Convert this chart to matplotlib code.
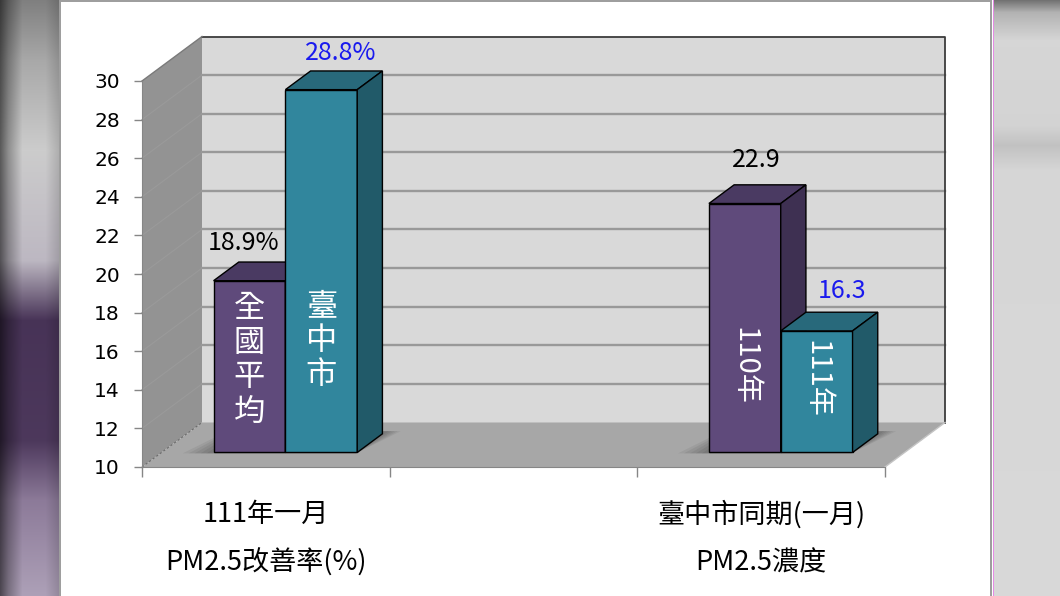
import numpy as np
import matplotlib.pyplot as plt
from matplotlib.patches import Polygon

plt.rcParams['font.family'] = ['Noto Sans CJK TC', 'DejaVu Sans']
plt.rcParams['font.weight'] = 'medium'

# ---- data ----
cat_top = ["111年一月", "臺中市同期(一月)"]
cat_bottom = ["PM2.5改善率(%)", "PM2.5濃度"]
cat_slots = [0, 2]          # 3 category slots, middle one empty
bar_names = [["全國平均", "臺中市"], ["110年", "111年"]]
bar_values = [[18.9, 28.8], [22.9, 16.3]]
value_text = [["18.9%", "28.8%"], ["22.9", "16.3"]]
value_colors = [["black", "#1a1aee"], ["black", "#1a1aee"]]
yticks = list(range(10, 31, 2))

# layout tweaks (pixels) for the value labels, inner label heights
lab_dx = [[-31, -6], [-14, 0]]
lab_dy = [[19, 18], [25, 21]]
inner_y = [[14.8, 15.8], [14.5, 13.8]]

purple = ("#5f4a7b", "#4a3a62", "#3e3052")   # front, top, side
teal = ("#31869d", "#28697b", "#215a69")
bar_cols = [purple, teal]

W, H = 1060, 596
fig = plt.figure(figsize=(W / 100, H / 100), dpi=100)

# background: blurred photo strips left/right, white panel
bg = np.ones((H, W, 3))
ys = np.arange(H)
ly = [0, 60, 150, 260, 320, 440, 500, 596]
lc = [(0.50, 0.50, 0.50), (0.66, 0.66, 0.66), (0.80, 0.80, 0.80), (0.74, 0.72, 0.76),
      (0.28, 0.20, 0.34), (0.30, 0.22, 0.36), (0.55, 0.48, 0.60), (0.68, 0.63, 0.72)]
left = np.stack([np.interp(ys, ly, [c[k] for c in lc]) for k in range(3)], axis=1)
xs = np.arange(60)
shade = np.interp(xs, [0, 8, 22, 45, 59], [0.45, 0.7, 1.0, 1.0, 0.85])
bg[:, :60, :] = left[:, None, :] * shade[None, :, None]
ry = [0, 12, 40, 125, 145, 170, 596]
rc = [0.45, 0.70, 0.84, 0.83, 0.76, 0.84, 0.85]
right = np.interp(ys, ry, rc)
bg[:, 994:, :] = right[:, None, None]
bg[:, 993, :] = (0.90, 0.55, 0.90)
bg[:, 59:61, :] = 0.62
bg[:, 990:992, :] = 0.62
bg[0:2, 60:992, :] = 0.62

ax_bg = fig.add_axes([0, 0, 1, 1])
ax_bg.imshow(bg, aspect='auto', extent=(0, W, H, 0))
ax_bg.axis('off')

# main axes = front plane of the 3d box
ax = fig.add_axes([142 / W, (H - 467) / H, 743 / W, 386 / H])
ax.set_xlim(0, 3)
ax.set_ylim(10, 30)
ax.patch.set_alpha(0)

DX = 60 / (743 / 3)
DY = 44.5 / (386 / 20)


def P(x, y, d):
    return (x + d * DX, y + d * DY)


def face(pts, color, z, ec='none', lw=0, alpha=1):
    ax.add_patch(Polygon(pts, closed=True, fc=color, ec=ec, lw=lw, zorder=z,
                         alpha=alpha, clip_on=False))


# walls and floor
face([P(0, 10, 1), P(3, 10, 1), P(3, 30, 1), P(0, 30, 1)], '#d9d9d9', 1)
face([P(0, 10, 0), P(0, 10, 1), P(0, 30, 1), P(0, 30, 0)], '#939393', 1)
face([P(0, 10, 0), P(3, 10, 0), P(3, 10, 1), P(0, 10, 1)], '#a7a7a7', 1)
for v in yticks[1:-1]:
    a, b = P(0, v, 1), P(3, v, 1)
    ax.plot([a[0], b[0]], [a[1], b[1]], color='#999999', lw=1.7, zorder=1.2, clip_on=False)
    a, b = P(0, v, 0), P(0, v, 1)
    ax.plot([a[0], b[0]], [a[1], b[1]], color='#9a9a9a', lw=0.8, zorder=1.2, clip_on=False)
a, b, c = P(0, 30, 1), P(3, 30, 1), P(3, 10, 1)
ax.plot([a[0], b[0], c[0]], [a[1], b[1], c[1]], color='#3c3c3c', lw=1.3, zorder=1.3, clip_on=False)
a, b = P(0, 30, 0), P(0, 30, 1)
ax.plot([a[0], b[0]], [a[1], b[1]], color='#7a7a7a', lw=1, zorder=1.3, clip_on=False)
a, b = P(3, 10, 0), P(3, 10, 1)
ax.plot([a[0], b[0]], [a[1], b[1]], color='#c4c4c4', lw=1, zorder=1.3, clip_on=False)
a, b = P(0, 10, 0), P(0, 10, 1)
ax.plot([a[0], b[0]], [a[1], b[1]], color='#6a6a6a', lw=0.8, ls=(0, (2, 2)), zorder=1.3, clip_on=False)

# bars
bw = 0.29
d0, d1 = 0.326, 0.746
for g, slot in enumerate(cat_slots):
    gx0 = slot + 0.21
    gx1 = gx0 + 2 * bw
    # soft shadow on the floor
    for k in range(5):
        e = 0.012 * (k + 1)
        face([P(gx0 - 2 * e, 10, d0 - 0.02), P(gx1, 10, d0 - 0.02),
              P(gx1 + e, 10, d1 + 0.06), P(gx0 - e, 10, d1 + 0.06)], 'black', 1.5, alpha=0.06)
    for j in range(2):
        v = bar_values[g][j]
        x0 = gx0 + j * bw
        x1 = x0 + bw
        fc, tc, sc = bar_cols[j]
        z = 3 + g * 2 + j * 0.5
        face([P(x0, 10, d0), P(x1, 10, d0), P(x1, v, d0), P(x0, v, d0)], fc, z, 'black', 1)
        face([P(x0, v, d0), P(x1, v, d0), P(x1, v, d1), P(x0, v, d1)], tc, z, 'black', 1)
        face([P(x1, 10, d0), P(x1, 10, d1), P(x1, v, d1), P(x1, v, d0)], sc, z, 'black', 1)

        cx = (x0 + x1) / 2
        name = bar_names[g][j]
        if g == 0:
            ax.text(*P(cx, inner_y[g][j], d0), "\n".join(name), color='white', fontsize=22.5,
                    ha='center', va='center', linespacing=1.1, zorder=z + 0.3)
        else:
            ax.text(*P(cx, inner_y[g][j], d0), name, color='white', fontsize=21,
                    ha='center', va='center', rotation=-90, zorder=z + 0.3)

        ax.annotate(value_text[g][j], xy=P(cx, v, d1),
                    xytext=(lab_dx[g][j] * 0.72, lab_dy[g][j] * 0.72), textcoords='offset points',
                    ha='center', va='center', fontsize=18, color=value_colors[g][j],
                    zorder=10, annotation_clip=False)

# category labels under the floor
for g, slot in enumerate(cat_slots):
    ax.annotate(cat_top[g], xy=(slot + 0.5, 10), xytext=(0, -47 * 0.72),
                textcoords='offset points', ha='center', va='center', fontsize=19.5,
                annotation_clip=False)
    ax.annotate(cat_bottom[g], xy=(slot + 0.5, 10), xytext=(0, -96 * 0.72),
                textcoords='offset points', ha='center', va='center', fontsize=19.5,
                annotation_clip=False)

ax.set_yticks(yticks)
ax.set_xticks([0, 1, 2, 3])
ax.set_xticklabels([])
ax.tick_params(axis='y', length=6, width=1, color='#868686', pad=10,
               labelsize=14.5, labelfontfamily='DejaVu Sans')
ax.tick_params(axis='x', length=7.5, width=1, color='#868686')
for s in ['top', 'right']:
    ax.spines[s].set_visible(False)
for s in ['left', 'bottom']:
    ax.spines[s].set_color('#868686')
    ax.spines[s].set_zorder(2)

fig.savefig('out.png', dpi=100)
